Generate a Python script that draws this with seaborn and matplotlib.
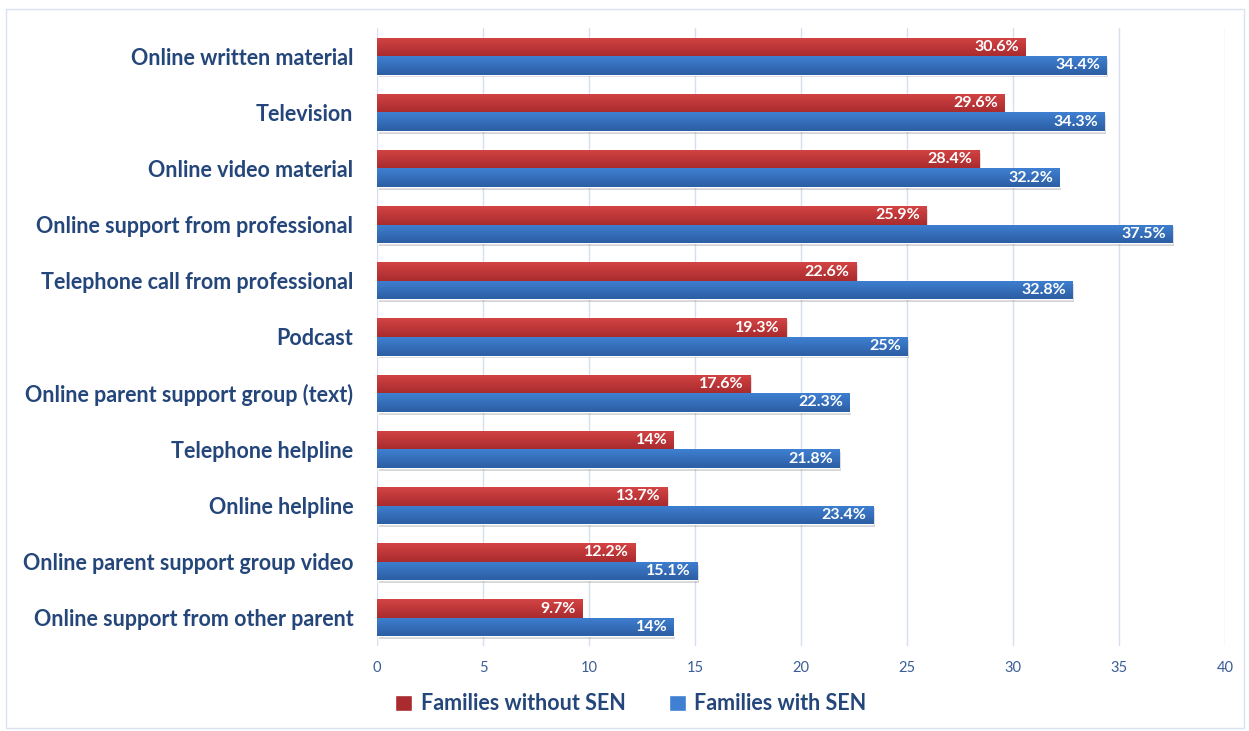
import numpy as np
import pandas as pd
import matplotlib
matplotlib.use("Agg")
import matplotlib.pyplot as plt
from matplotlib.patches import Rectangle
import seaborn as sns

categories = [
    "Online written material",
    "Television",
    "Online video material",
    "Online support from professional",
    "Telephone call from professional",
    "Podcast",
    "Online parent support group (text)",
    "Telephone helpline",
    "Online helpline",
    "Online parent support group video",
    "Online support from other parent",
]
without_sen = [30.6, 29.6, 28.4, 25.9, 22.6, 19.3, 17.6, 14, 13.7, 12.2, 9.7]
with_sen = [34.4, 34.3, 32.2, 37.5, 32.8, 25, 22.3, 21.8, 23.4, 15.1, 14]
series = ["Families without SEN", "Families with SEN"]
x_ticks = [0, 5, 10, 15, 20, 25, 30, 35, 40]

df = pd.DataFrame({
    "category": categories * 2,
    "value": without_sen + with_sen,
    "group": [series[0]] * len(categories) + [series[1]] * len(categories),
})

sns.set_theme(style="white")
plt.rcParams["font.family"] = ["Lato", "DejaVu Sans"]

red_top, red_bot = "#D44444", "#A92B2E"
blue_top, blue_bot = "#3F80D2", "#2C5EA3"
label_col = "#24467A"
tick_col = "#3A5D96"
grid_col = "#D5DFEE"

fig = plt.figure(figsize=(12.49, 7.31), dpi=100)
ax = fig.add_axes([0.3018, 0.1163, 0.679, 0.8454])

sns.barplot(data=df, y="category", x="value", hue="group", order=categories,
            hue_order=series, palette=[red_top, blue_top], width=0.66,
            orient="h", ax=ax, legend=False, saturation=1)

ax.set_xlim(0, 40)
ax.set_xticks(x_ticks)
ax.set_xticklabels([str(t) for t in x_ticks], color=tick_col, fontsize=10.5)
ax.tick_params(axis="x", length=0, pad=11)
ax.tick_params(axis="y", length=0, pad=17)
for lbl in ax.get_yticklabels():
    lbl.set_fontsize(15.5)
    lbl.set_fontweight("bold")
    lbl.set_color(label_col)
ax.set_xlabel("")
ax.set_ylabel("")
for s in ax.spines.values():
    s.set_visible(False)
ax.xaxis.grid(True, color=grid_col, linewidth=1.0)
ax.set_axisbelow(True)

# gradient fill and soft shadow on each bar, plus its value label
n = len(categories)
for i, patch in enumerate(ax.patches[: 2 * n]):
    is_red = i < n
    vals = without_sen if is_red else with_sen
    v = vals[i % n]
    x0, y0 = patch.get_x(), patch.get_y()
    w, h = patch.get_width(), patch.get_height()
    top, bot = (red_top, red_bot) if is_red else (blue_top, blue_bot)
    cmap = matplotlib.colors.LinearSegmentedColormap.from_list("g", [top, bot])
    grad = np.linspace(0, 1, 64).reshape(-1, 1)
    sh = Rectangle((x0 + 0.08, y0 + 0.05), w, h, facecolor="#000000", alpha=0.16,
                   edgecolor="none", zorder=2)
    ax.add_patch(sh)
    im = ax.imshow(grad, cmap=cmap, aspect="auto", extent=(x0, x0 + w, y0 + h, y0),
                   origin="upper", zorder=3)
    im.set_clip_path(patch)
    patch.set_zorder(3)
    ax.text(x0 + w - 0.3, y0 + h / 2, f"{v:g}%", ha="right", va="center",
            color="white", fontsize=11.5, fontweight="bold", zorder=5)

ax.set_ylim(n - 0.5, -0.5)

# legend
handles = [Rectangle((0, 0), 1, 1, facecolor=red_bot), Rectangle((0, 0), 1, 1, facecolor=blue_top)]
leg = fig.legend(handles, series, loc="center", bbox_to_anchor=(0.505, 0.037), ncol=2,
                 frameon=False, handlelength=0.8, handleheight=0.8, handletextpad=0.4,
                 columnspacing=2.0, prop={"size": 15.5, "weight": "bold"})
for t in leg.get_texts():
    t.set_color(label_col)

# outer chart border
fig.patches.append(Rectangle((6 / 1249, 3 / 731), 1238 / 1249, 719 / 731,
                             transform=fig.transFigure, fill=False,
                             edgecolor="#D9E2F1", linewidth=1.0))

fig.savefig("out.png", dpi=100)
